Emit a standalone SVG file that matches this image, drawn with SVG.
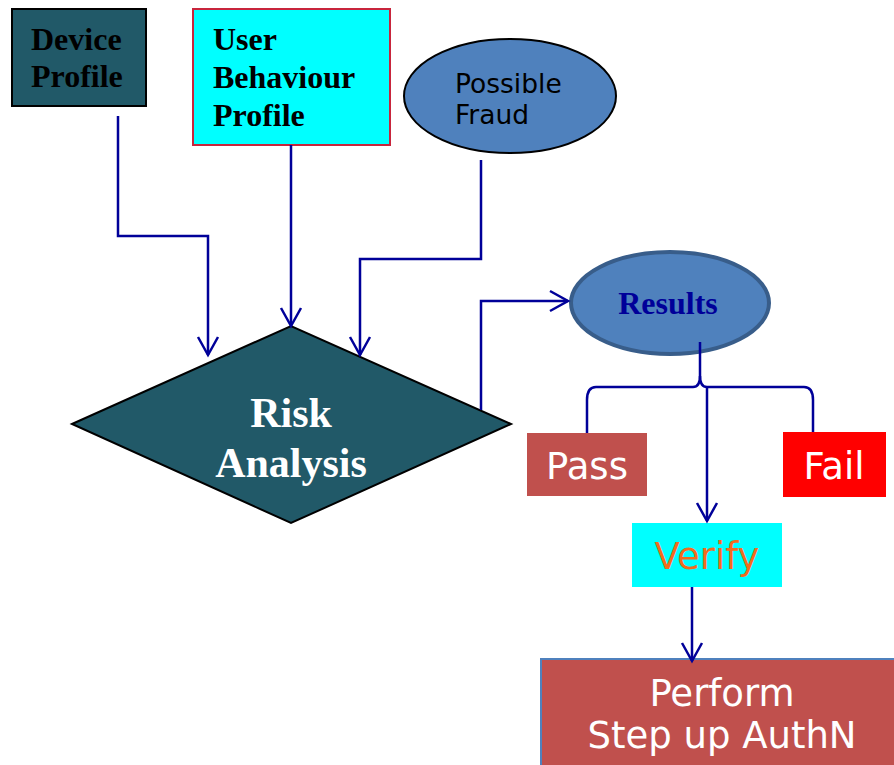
<svg xmlns="http://www.w3.org/2000/svg" width="894" height="765" viewBox="0 0 894 765">
<defs>
<style>
.conn{fill:none;stroke:#000099;stroke-width:2.5}
.serifb{font-family:"Liberation Serif","Times New Roman",serif;font-weight:bold}
.sans{font-family:"DejaVu Sans",Verdana,sans-serif}
</style>
<marker id="arr" markerUnits="userSpaceOnUse" markerWidth="30" markerHeight="30" refX="18" refY="10" orient="auto" overflow="visible">
<path d="M0,0 L18,10 L0,20" fill="none" stroke="#000099" stroke-width="2.5"/>
</marker>
</defs>
<rect width="894" height="765" fill="#ffffff"/>

<g id="device-profile">
<rect x="12" y="9" width="134" height="97" fill="#215968" stroke="#000000" stroke-width="2"/>
<text class="serifb" font-size="32" fill="#000000" x="31" y="50">Device</text>
<text class="serifb" font-size="32" fill="#000000" x="31" y="87">Profile</text>
</g>

<g id="user-behaviour-profile">
<rect x="193" y="9" width="197" height="136" fill="#00ffff" stroke="#c8253c" stroke-width="2"/>
<text class="serifb" font-size="32" fill="#000000" x="213" y="50">User</text>
<text class="serifb" font-size="32" fill="#000000" x="213" y="88">Behaviour</text>
<text class="serifb" font-size="32" fill="#000000" x="213" y="126">Profile</text>
</g>

<g id="possible-fraud">
<ellipse cx="510" cy="96" rx="106" ry="57" fill="#4f81bd" stroke="#000000" stroke-width="2"/>
<text class="sans" font-size="26.5" fill="#000000" x="455" y="93">Possible</text>
<text class="sans" font-size="26.5" fill="#000000" x="455" y="124">Fraud</text>
</g>

<g id="risk-analysis">
<polygon points="72,424 291,326 511,424 291,523" fill="#215968" stroke="#000000" stroke-width="2"/>
<text class="serifb" font-size="42" fill="#ffffff" x="291" y="427" text-anchor="middle">Risk</text>
<text class="serifb" font-size="42" fill="#ffffff" x="291" y="477" text-anchor="middle">Analysis</text>
</g>

<g id="results">
<ellipse cx="670" cy="303" rx="99" ry="51" fill="#4f81bd" stroke="#385d8a" stroke-width="4"/>
<text class="serifb" font-size="32" fill="#000099" x="668" y="314" text-anchor="middle">Results</text>
</g>

<g id="pass">
<rect x="527" y="433" width="120" height="63" fill="#c0504d"/>
<text class="sans" font-size="37" fill="#ffffff" x="587" y="479" text-anchor="middle">Pass</text>
</g>

<g id="fail">
<rect x="783" y="432" width="103" height="65" fill="#ff0000"/>
<text class="sans" font-size="37" fill="#ffffff" x="834" y="479" text-anchor="middle">Fail</text>
</g>

<g id="verify">
<rect x="632" y="523" width="150" height="64" fill="#00ffff"/>
<text class="sans" font-size="37" fill="#f26b1d" x="707" y="569" text-anchor="middle">Verify</text>
</g>

<g id="perform-step-up">
<rect x="541" y="659" width="370" height="120" fill="#c0504d" stroke="#4f81bd" stroke-width="2"/>
<text class="sans" font-size="37" fill="#ffffff" x="722" y="706" text-anchor="middle">Perform</text>
<text class="sans" font-size="37" fill="#ffffff" x="722" y="748" text-anchor="middle">Step up AuthN</text>
</g>

<g id="connectors">
<polyline class="conn" points="118,116 118,236 208,236 208,355" marker-end="url(#arr)"/>
<polyline class="conn" points="291,145 291,326" marker-end="url(#arr)"/>
<polyline class="conn" points="481,160 481,259 360,259 360,355" marker-end="url(#arr)"/>
<polyline class="conn" points="481,410 481,301 568,301" marker-end="url(#arr)"/>
<path class="conn" d="M700,342 L700,376 Q700,387 693,387 L596,387 Q587,387 587,400 L587,433"/>
<path class="conn" d="M700,376 Q700,387 707,387 L804,387 Q813,387 813,400 L813,432"/>
<polyline class="conn" points="707,387 707,521" marker-end="url(#arr)"/>
<polyline class="conn" points="692,587 692,661" marker-end="url(#arr)"/>
</g>
</svg>
